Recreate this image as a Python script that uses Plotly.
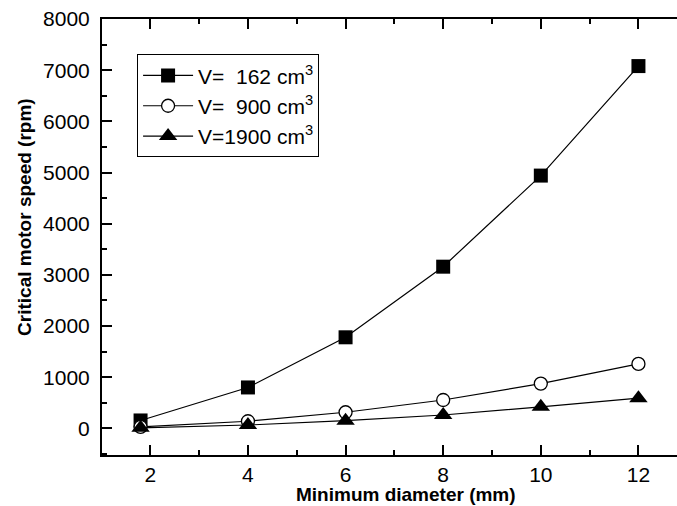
import plotly.graph_objects as go

# Data
diameter_mm = [1.8, 4, 6, 8, 10, 12]
speed_162 = [155, 800, 1780, 3160, 4940, 7080]
speed_900 = [28, 140, 315, 555, 875, 1260]
speed_1900 = [12, 66, 150, 262, 422, 590]

series_names = ["V=\u00a0\u00a0162 cm<sup>3</sup>",
                "V=\u00a0\u00a0900 cm<sup>3</sup>",
                "V=1900 cm<sup>3</sup>"]

x_ticks = [2, 4, 6, 8, 10, 12]
y_ticks = [0, 1000, 2000, 3000, 4000, 5000, 6000, 7000, 8000]

FONT = "Liberation Sans, Arial, sans-serif"

fig = go.Figure()
fig.add_trace(go.Scatter(
    x=diameter_mm, y=speed_162, name=series_names[0], mode="lines+markers",
    line=dict(color="black", width=1.2),
    marker=dict(symbol="square", size=14, color="black")))
fig.add_trace(go.Scatter(
    x=diameter_mm, y=speed_900, name=series_names[1], mode="lines+markers",
    line=dict(color="black", width=1.2),
    marker=dict(symbol="circle", size=13, color="white",
                line=dict(color="black", width=1.3))))
fig.add_trace(go.Scatter(
    x=diameter_mm, y=speed_1900, name=series_names[2], mode="lines+markers",
    line=dict(color="black", width=1.2),
    marker=dict(symbol="triangle-up", size=16, color="black")))

fig.update_layout(
    width=677, height=506,
    margin=dict(l=102, r=0, t=19, b=51),
    paper_bgcolor="white", plot_bgcolor="white",
    font=dict(family=FONT, size=21, color="black"),
    showlegend=True,
    legend=dict(x=0.061, y=0.919, xanchor="left", yanchor="top",
                bordercolor="black", borderwidth=1, bgcolor="white",
                font=dict(family=FONT, size=21, color="black"),
                tracegroupgap=0, itemwidth=50),
    xaxis=dict(range=[1.01, 12.79], tickvals=x_ticks,
               showgrid=False, zeroline=False,
               showline=True, linecolor="black", linewidth=2,
               mirror="allticks",
               ticks="inside", ticklen=10, tickwidth=2, tickcolor="black",
               minor=dict(dtick=1, ticks="inside", ticklen=5, tickwidth=2,
                          tickcolor="black", showgrid=False),
               ticklabelstandoff=0,
               tickfont=dict(family=FONT, size=21)),
    yaxis=dict(range=[-520, 8000], tickvals=y_ticks,
               showgrid=False, zeroline=False,
               showline=True, linecolor="black", linewidth=2,
               ticks="inside", ticklen=10, tickwidth=2, tickcolor="black",
               minor=dict(dtick=500, ticks="inside", ticklen=5, tickwidth=2,
                          tickcolor="black", showgrid=False),
               ticklabelstandoff=6,
               tickfont=dict(family=FONT, size=21)),
    annotations=[
        dict(text="<b>Minimum diameter (mm)</b>", xref="paper", yref="paper",
             x=0.529, y=-0.09, xanchor="center", yanchor="middle",
             showarrow=False, font=dict(family=FONT, size=19)),
        dict(text="<b>Critical motor speed (rpm)</b>", xref="paper", yref="paper",
             x=-0.134, y=0.546, xanchor="center", yanchor="middle", textangle=-90,
             showarrow=False, font=dict(family=FONT, size=19)),
    ],
)

fig.write_html("out.html")
